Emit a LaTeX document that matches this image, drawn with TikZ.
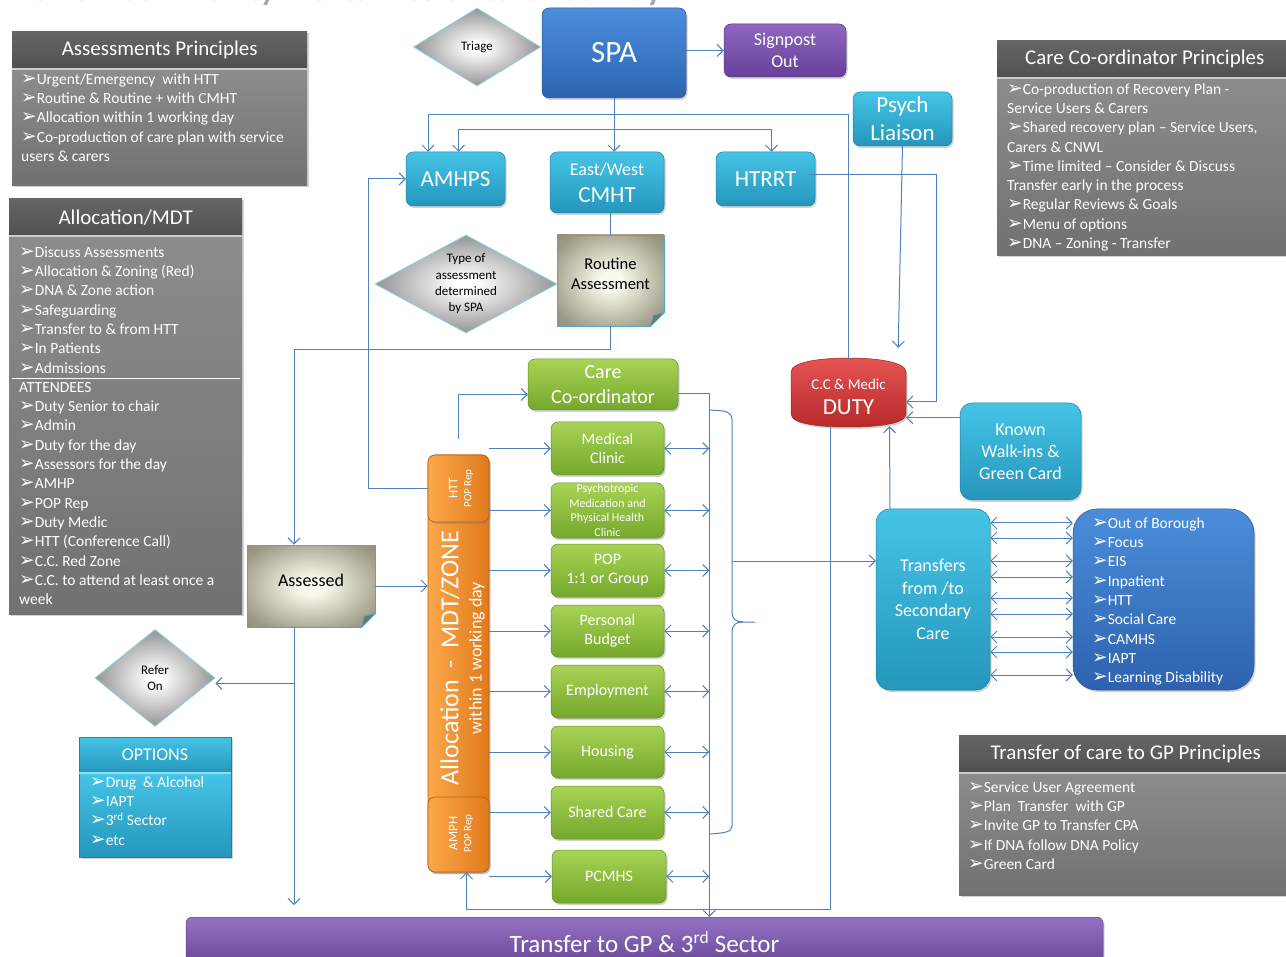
\documentclass[tikz,border=0pt]{standalone}
\usepackage{fontspec}
\setmainfont{Carlito}
\newfontfamily\dejavu{DejaVu Sans}
\usetikzlibrary{arrows.meta,shadows,shapes.geometric,calc}
\definecolor{lineblue}{HTML}{4F81BD}
\definecolor{hdrT}{HTML}{666666}
\definecolor{hdrB}{HTML}{505050}
\definecolor{bodyT}{HTML}{8C8C8C}
\definecolor{bodyB}{HTML}{717171}
\definecolor{spaT}{HTML}{4B8EDC}
\definecolor{spaB}{HTML}{2D64B2}
\definecolor{purT}{HTML}{8F66C0}
\definecolor{purB}{HTML}{66409A}
\definecolor{cyT}{HTML}{45C4E6}
\definecolor{cyB}{HTML}{2596BC}
\definecolor{grT}{HTML}{A8D356}
\definecolor{grB}{HTML}{74A82B}
\definecolor{orL}{HTML}{FAA84A}
\definecolor{orR}{HTML}{E07A1C}
\definecolor{rdT}{HTML}{E65353}
\definecolor{rdB}{HTML}{B82A2A}
\definecolor{blT}{HTML}{4A8DDA}
\definecolor{blB}{HTML}{2E62AE}
\definecolor{barT}{HTML}{9472C2}
\definecolor{barB}{HTML}{6A4599}
\definecolor{diaO}{HTML}{999999}
\definecolor{diaC}{HTML}{858585}
\definecolor{diaB}{HTML}{8FCFE3}
\definecolor{noteI}{HTML}{FBF9EC}
\definecolor{noteO}{HTML}{9C9985}
\definecolor{noteC}{HTML}{77745F}
\definecolor{noteB}{HTML}{4BACC6}
\definecolor{titlegray}{HTML}{A6A6A6}
\pgfdeclareradialshading{noteshade}{\pgfpoint{0bp}{0bp}}{color(0bp)=(noteI); color(5bp)=(noteI); color(30bp)=(noteO); color(50bp)=(noteC); color(72bp)=(noteC)}
\pgfdeclareradialshading{diashade}{\pgfpoint{0bp}{0bp}}{color(0bp)=(white); color(3bp)=(white); color(24bp)=(diaO); color(45bp)=(diaC); color(72bp)=(diaC)}
\newcommand\bl{\scalebox{1.2}{\dejavu ➢}}
\newcommand\fs[2]{\fontsize{#1}{#2}\selectfont}
\newcommand\fl{\rule{0pt}{12.5pt}}
\newcommand\fold[2]{%
  \fill[white] ($(#1.south east)+(-#2,0.6)$) -- ($(#1.south east)+(0.6,0.6)$) -- ($(#1.south east)+(0.6,-#2)$) -- cycle;
  \filldraw[fill=noteC, draw=noteB, line width=0.8pt] ($(#1.south east)+(-#2,0)$) -- ($(#1.south east)+(0,-#2)$) -- ($(#1.south east)+(-0.8*#2,-0.8*#2)$) -- cycle;}
\tikzset{
  conn/.style={draw=lineblue, line width=1pt, -{Straight Barb[length=6pt,width=12pt]}},
  conn2/.style={draw=lineblue, line width=1pt, {Straight Barb[length=6pt,width=12pt]}-{Straight Barb[length=6pt,width=12pt]}},
  plain/.style={draw=lineblue, line width=1pt},
  shad/.style={drop shadow={shadow xshift=1.5pt, shadow yshift=-2pt, opacity=0.35}},
  rbox/.style={rectangle, rounded corners=7pt, inner sep=0pt, text=white, align=center, shad},
  spabox/.style={rbox, top color=spaT, bottom color=spaB, draw=spaB!85!black, line width=0.5pt},
  purbox/.style={rbox, top color=purT, bottom color=purB, draw=purB!85!black, line width=0.5pt},
  cybox/.style={rbox, top color=cyT, bottom color=cyB, draw=cyB!85!black, line width=0.5pt},
  gbox/.style={rbox, top color=grT, bottom color=grB, draw=grB!85!black, line width=0.5pt, minimum width=113, font=\fs{16}{19}},
  blbox/.style={rbox, top color=blT, bottom color=blB, draw=blB!85!black, line width=0.5pt},
  barbox/.style={rbox, top color=barT, bottom color=barB, draw=barB!85!black, line width=0.5pt},
  obox/.style={rbox, left color=orL, right color=orR, draw=orR!80!black, line width=0.6pt},
  hdr/.style={rectangle, inner sep=0pt, top color=hdrT, bottom color=hdrB, text=white, font=\fs{21}{25}, anchor=north west, shad},
  bodyb/.style={rectangle, inner sep=0pt, top color=bodyT, bottom color=bodyB, anchor=north west, shad},
  listtext/.style={inner sep=0pt, anchor=north west, align=left, text=white, font=\fs{15.5}{19.3}},
  dia/.style={diamond, shading=diashade, draw=diaB, line width=0.8pt, inner sep=0pt, align=center, text=black},
  note/.style={rectangle, shading=noteshade, draw=noteB, line width=0.9pt, inner sep=0pt},
  notetext/.style={align=center, text=black, inner sep=0pt}
}
\begin{document}
\begin{tikzpicture}[x=1pt,y=-1pt]
\useasboundingbox (0,0) rectangle (1286,957);
\clip (0,0) rectangle (1286,957);
\fill[white] (0,0) rectangle (1286,957);

% title (cut off at top, as in the original)
\node[anchor=base east, text=titlegray, font=\bfseries\fs{32}{36}, inner sep=0pt] (title) at (662,1) {Harrow Community Mental Health Care Pathway};

% ---------- principle boxes ----------
\node[hdr, minimum width=295, minimum height=38] (aphead) at (12,31) {Assessments Principles};
\node[bodyb, minimum width=295, minimum height=116] (apbody) at (12,69) {};
\draw[gray!40, line width=1.2pt] (apbody.north west) -- (apbody.north east);
\node[listtext] (aptext) at (21,71.5) {\fl\bl Urgent/Emergency\ \ with HTT\\ \bl Routine \& Routine + with CMHT\\ \bl Allocation within 1 working day\\ \bl Co-production of care plan with service\\ users \& carers};

\node[hdr, minimum width=233, minimum height=38] (mdthead) at (9,198) {Allocation/MDT};
\node[bodyb, minimum width=233, minimum height=378] (mdtbody) at (9,236) {};
\draw[gray!40, line width=1.2pt] (mdtbody.north west) -- (mdtbody.north east);
\node[listtext] (mdttext) at (19,244.5) {\fl\bl Discuss Assessments\\ \bl Allocation \& Zoning (Red)\\ \bl DNA \& Zone action\\ \bl Safeguarding\\ \bl Transfer to \& from HTT\\ \bl In Patients\\ \bl Admissions\\ ATTENDEES\\ \bl Duty Senior to chair\\ \bl Admin\\ \bl Duty for the day\\ \bl Assessors for the day\\ \bl AMHP\\ \bl POP Rep\\ \bl Duty Medic\\ \bl HTT (Conference Call)\\ \bl C.C. Red Zone\\ \bl C.C. to attend at least once a\\ week};
\draw[white, line width=1pt] ($(mdtbody.north west)+(3,142.5)$) -- ($(mdtbody.north east)+(-2,142.5)$);

\node[hdr, minimum width=295, minimum height=38] (ccphead) at (997,40) {Care Co-ordinator Principles};
\node[bodyb, minimum width=295, minimum height=177] (ccpbody) at (997,78) {};
\draw[gray!40, line width=1.2pt] (ccpbody.north west) -- (ccpbody.north east);
\node[listtext] (ccptext) at (1007,81.5) {\fl\bl Co-production of Recovery Plan -\\ Service Users \& Carers\\ \bl Shared recovery plan – Service Users,\\ Carers \& CNWL\\ \bl Time limited – Consider \& Discuss\\ Transfer early in the process\\ \bl Regular Reviews \& Goals\\ \bl Menu of options\\ \bl DNA – Zoning - Transfer};

\node[hdr, minimum width=333, minimum height=38] (gpphead) at (959,735) {Transfer of care to GP Principles};
\node[bodyb, minimum width=333, minimum height=122] (gppbody) at (959,773) {};
\draw[gray!40, line width=1.2pt] (gppbody.north west) -- (gppbody.north east);
\node[listtext] (gpptext) at (968,779.5) {\fl\bl Service User Agreement\\ \bl Plan\ \ Transfer\ \ with GP\\ \bl Invite GP to Transfer CPA\\ \bl If DNA follow DNA Policy\\ \bl Green Card};

% ---------- top row ----------
\node[dia, minimum width=127, minimum height=78, aspect=1.63, font=\fs{13}{16}] (triage) at (477,47) {Triage};
\node[spabox, minimum width=144, minimum height=90, font=\fs{31}{36}] (spa) at (614,53) {SPA};
\node[purbox, minimum width=122, minimum height=53, font=\fs{18}{22}] (signpost) at (785,50.5) {Signpost\\Out};
\node[cybox, minimum width=99, minimum height=54, font=\fs{23}{28}] (psych) at (902.5,119) {Psych\\Liaison};
\node[cybox, minimum width=99, minimum height=54, font=\fs{23}{28}] (amhps) at (455.5,179) {AMHPS};
\node[cybox, minimum width=114, minimum height=61, font=\fs{23}{27}] (cmht) at (607,182.5) {{\fs{18}{22}East/West}\\CMHT};
\node[cybox, minimum width=99, minimum height=54, font=\fs{23}{28}] (htrrt) at (765.5,179) {HTRRT};

% ---------- assessment ----------
\node[dia, minimum width=182, minimum height=98, aspect=1.85, font=\fs{13}{16.3}] (typeass) at (466,284) {Type of\\assessment\\determined\\by SPA};
\node[note, minimum width=107, minimum height=91] (routine) at (610.5,280.5) {};
\fold{routine}{14}
\node[notetext, font=\fs{16.5}{20}] (routinetext) at (610.5,274) {Routine\\Assessment};
\node[note, minimum width=128, minimum height=82] (assessed) at (311,586) {};
\fold{assessed}{14}
\node[notetext, font=\fs{18}{22}] (assessedtext) at (311,580) {Assessed};
\node[dia, minimum width=120, minimum height=97, aspect=1.24, font=\fs{13}{16}] (refer) at (155,678) {Refer\\On};

\node[cybox, rounded corners=0pt, minimum width=152, minimum height=36, font=\fs{18}{22}] (opthead) at (155,755) {OPTIONS};
\node[cybox, rounded corners=0pt, minimum width=152, minimum height=84, anchor=north] (optbody) at (155,773) {};
\draw[cyT!60!white, line width=1.2pt] (optbody.north west) -- (optbody.north east);
\node[listtext] (opttext) at (90,774.5) {\fl\bl Drug\ \ \& Alcohol\\ \bl IAPT\\ \bl 3\textsuperscript{rd} Sector\\ \bl etc};

% ---------- green column ----------
\node[gbox, minimum width=150, minimum height=51, font=\fs{20}{25}] (carecoord) at (603,384.5) {Care\\Co-ordinator};
\node[gbox, minimum height=53] (med) at (607.5,448.5) {Medical\\Clinic};
\node[gbox, minimum height=55, font=\fs{12}{14.7}] (psycho) at (607.5,510.5) {Psychotropic\\Medication and\\Physical Health\\Clinic};
\node[gbox, minimum height=53] (pop) at (607.5,570.5) {POP\\1:1 or Group};
\node[gbox, minimum height=52] (budget) at (607.5,631) {Personal\\Budget};
\node[gbox, minimum height=53] (employ) at (607.5,691.5) {Employment};
\node[gbox, minimum height=52] (housing) at (607.5,752) {Housing};
\node[gbox, minimum height=53] (shared) at (607.5,812.5) {Shared Care};
\node[gbox, minimum width=114, minimum height=53] (pcmhs) at (609,876.5) {PCMHS};

% ---------- orange bar ----------
\node[obox, minimum width=61, minimum height=417] (orange) at (458.5,663.5) {};
\node[obox, minimum width=61, minimum height=67] (htt) at (458.5,488.5) {};
\node[obox, minimum width=61, minimum height=75] (amph) at (458.5,834.5) {};
\node[rotate=90, text=white, font=\fs{26}{30}, inner sep=0pt] (alloctext) at (450,658) {Allocation\ \ -\ \ MDT/ZONE};
\node[rotate=90, text=white, font=\fs{18}{20}, inner sep=0pt] (withintext) at (477,658) {within 1 working day};
\node[rotate=90, text=white, align=center, font=\fs{13}{14}, inner sep=0pt] (htttext) at (461,488.5) {HTT\\{\fs{11}{12}POP Rep}};
\node[rotate=90, text=white, align=center, font=\fs{13}{14}, inner sep=0pt] (amphtext) at (461,833.5) {AMPH\\{\fs{11}{12}POP Rep}};

% ---------- duty ----------
\path[shad, top color=rdT, bottom color=rdB, draw=rdB!85!black, line width=0.5pt]
  (791,372) .. controls (791,362) and (820,358) .. (848.5,358) .. controls (877,358) and (906,362) .. (906,372)
  -- (906,414) .. controls (906,424) and (877,427) .. (848.5,427) .. controls (820,427) and (791,424) .. (791,414) -- cycle;
\node[minimum width=115, minimum height=65, inner sep=0pt] (duty) at (848.5,392.5) {};
\node[align=center, text=white, inner sep=0pt, font=\fs{23}{25}] (dutytext) at (848.5,397) {{\fs{15}{16}C.C \& Medic}\\DUTY};

\node[cybox, rounded corners=12pt, minimum width=121, minimum height=97, font=\fs{18}{22}] (known) at (1020.5,451.5) {Known\\Walk-ins \&\\Green Card};
\node[cybox, rounded corners=14pt, minimum width=114, minimum height=181, font=\fs{18}{22.5}] (transfers) at (933,599.5) {Transfers\\from /to\\Secondary\\Care};
\node[blbox, rounded corners=24pt, minimum width=181, minimum height=181] (list) at (1163.5,599.5) {};
\node[listtext] (listtext) at (1092,515.5) {\fl\bl Out of Borough\\ \bl Focus\\ \bl EIS\\ \bl Inpatient\\ \bl HTT\\ \bl Social Care\\ \bl CAMHS\\ \bl IAPT\\ \bl Learning Disability};

\node[barbox, rounded corners=6pt, minimum width=917, minimum height=50, anchor=north, font=\fs{25}{28}] (gpbar) at (644.5,917) {Transfer to GP \& 3\textsuperscript{rd} Sector};

% ---------- connectors ----------
\draw[conn] (spa.east |- signpost.west) -- (signpost.west);
\draw[conn] (spa.south) -- (spa.south |- cmht.north);
\coordinate (a1) at ($(amhps.north)+(-27.5,0)$);
\coordinate (a2) at ($(amhps.north)+(3,0)$);
\coordinate (h1) at ($(htrrt.north)+(6,0)$);
\draw[conn] (duty.north) -- ++(0,-245) -| (a1);
\draw[conn2] (a2) -- ++(0,-22) -| (h1);
\draw[conn] (psych.south) -- ($(duty.north east)+(-8,-12)$);
\draw[conn] ($(htrrt.east)+(-6,-4)$) -- ++(127,0) |- ($(duty.east)+(0,9.5)$);
\coordinate (k1) at ($(known.north west)+(0,15)$);
\draw[conn] (k1) -- (k1 -| duty.east);
\draw[conn] ($(transfers.north)+(-43,0)$) -- ($(duty.south)+(41,1)$);
\draw[conn] ($(duty.south)+(-18,0)$) -- ++(0,484) -| ($(amph.south)+(8,0)$);
\coordinate (cc1) at ($(carecoord.east)+(0,9.5)$);
\coordinate (v1) at ($(cc1)+(31,0)$);
\draw[conn] (cc1) -- (v1) -- (v1 |- gpbar.north);
\foreach \b in {med,psycho,pop,budget,employ,housing,shared,pcmhs}{
  \draw[conn2] (\b.east) -- (\b.east -| v1);
  \draw[conn] (orange.east |- \b.west) -- (\b.west);
}
\draw[conn] ($(orange.north)+(0,-16)$) |- ($(carecoord.west)+(0,10)$);
\draw[conn] (htt.west) -- ++(-59,0) |- (amhps.west);
\draw[plain] (routine.north |- cmht.south) -- (routine.north);
\coordinate (as0) at ($(assessed.north)+(-17,0)$);
\coordinate (as1) at ($(assessed.south)+(-17,0)$);
\draw[conn] (routine.south) -- ++(0,23) -| (as0);
\draw[conn] (as1) -- ($(as1 |- gpbar.north)+(0,-12)$);
\coordinate (r1) at ($(as1)+(0,56)$);
\draw[conn] (r1) -- (r1 -| refer.east);
\draw[conn] (assessed.east) -- (orange.west |- assessed.east);

% brace
\coordinate (br0) at ($(carecoord.south east)+(31,0)$);
\draw[plain] (br0) .. controls (725,410) and (732,412) .. (732,420) -- (732,612)
  .. controls (732,619) and (736,622) .. (743,622) -- (755,622);
\draw[plain] (743,622) .. controls (736,622) and (732,625) .. (732,632) -- (732,826)
  .. controls (732,832) and (725,833) .. (709,834);
\coordinate (bp) at (732,561);
\draw[conn] (bp) -- (bp -| transfers.west);

% transfers <-> list
\foreach \dy in {-76.5,-61.5,-38.5,-22.5,-1.5,14.5,37.5,52.5,75.5}{
  \draw[conn2] ($(transfers.east)+(0,\dy)$) -- ($(list.west)+(0,\dy)$);
}
\end{tikzpicture}
\end{document}
